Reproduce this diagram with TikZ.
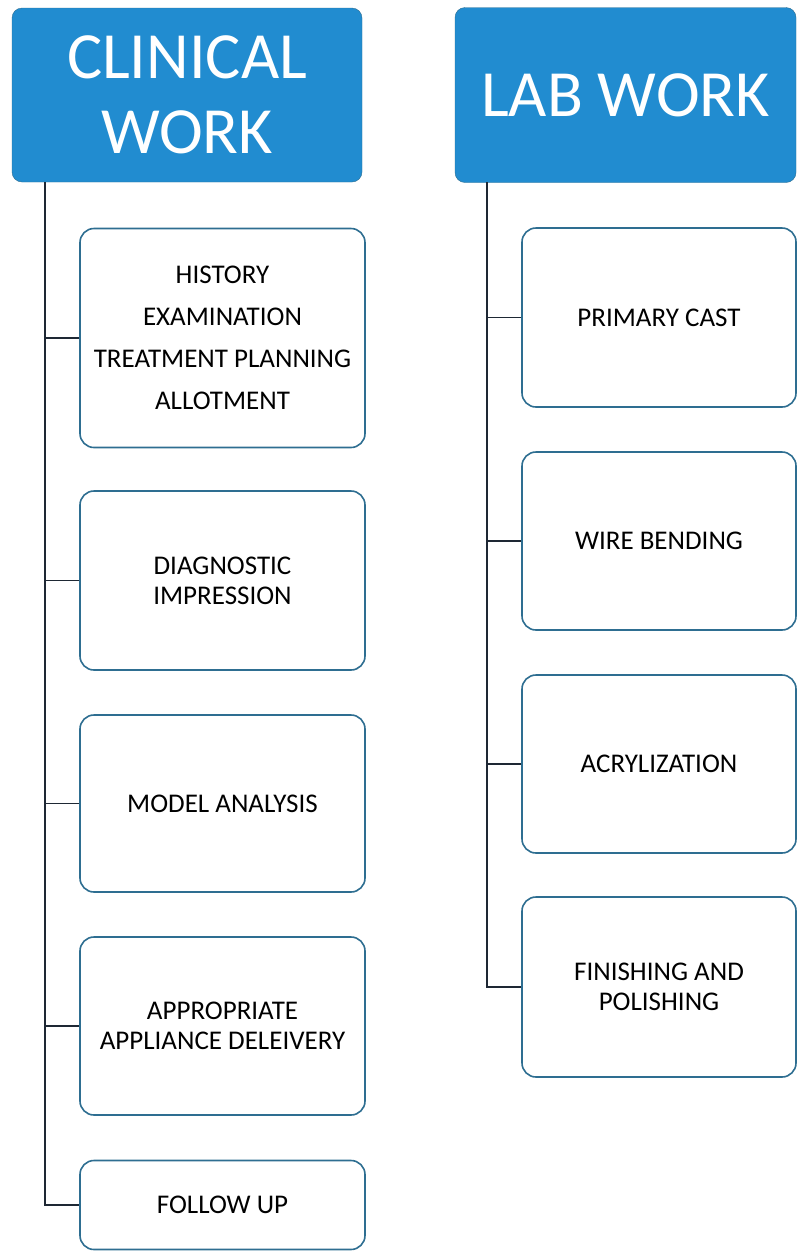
\documentclass[tikz,border=0pt]{standalone}
\usepackage{fontspec}
\setmainfont{Carlito}
\usepackage{tikz}

\definecolor{headblue}{RGB}{33,140,208}
\definecolor{boxline}{RGB}{46,110,145}
\definecolor{spine}{RGB}{30,40,52}

\begin{document}
\begin{tikzpicture}[x=1pt, y=-1pt,
    head/.style={draw=boxline, fill=headblue, rounded corners=10pt, text=white,
      align=center, inner sep=0pt, font=\fontsize{66}{75}\selectfont},
    item/.style={draw=boxline, line width=1.6pt, fill=white, rounded corners=14pt,
      align=center, inner sep=0pt, font=\fontsize{27}{30}\selectfont},
    link/.style={draw=spine, line width=1.6pt}]
    \useasboundingbox (0,0) rectangle (797,1251);
    % headers
    \node [head, minimum width=350, minimum height=174] (clin) at (187,95) {CLINICAL\\WORK};
    \node [head, minimum width=341, minimum height=175] (lab) at (625.5,95) {LAB WORK};
    % clinical work boxes
    \node [item, minimum width=285, minimum height=219] (c1) at (222.5,338)
        {HISTORY\\[12pt]EXAMINATION\\[12pt]TREATMENT PLANNING\\[12pt]ALLOTMENT};
    \node [item, minimum width=285, minimum height=179] (c2) at (222.5,580.5) {DIAGNOSTIC\\IMPRESSION};
    \node [item, minimum width=285, minimum height=177] (c3) at (222.5,803.5) {MODEL ANALYSIS};
    \node [item, minimum width=285, minimum height=178] (c4) at (222.5,1026) {APPROPRIATE\\APPLIANCE DELEIVERY};
    \node [item, minimum width=285, minimum height=89] (c5) at (222.5,1205) {FOLLOW UP};
    % lab work boxes
    \node [item, minimum width=274, minimum height=179] (l1) at (659,317.5) {PRIMARY CAST};
    \node [item, minimum width=274, minimum height=178] (l2) at (659,541) {WIRE BENDING};
    \node [item, minimum width=274, minimum height=178] (l3) at (659,764) {ACRYLIZATION};
    \node [item, minimum width=274, minimum height=180] (l4) at (659,987) {FINISHING AND\\POLISHING};
    % spines
    \coordinate (ctop) at (45,182);
    \coordinate (ltop) at (487,182);
    \draw [link] (ctop) |- (c5.west);
    \draw [link] (ltop) |- (l4.west);
    \foreach \b in {c1,c2,c3,c4}
        \draw [link] (\b.west) -- (\b.west -| ctop);
    \foreach \b in {l1,l2,l3}
        \draw [link] (\b.west) -- (\b.west -| ltop);
\end{tikzpicture}
\end{document}
